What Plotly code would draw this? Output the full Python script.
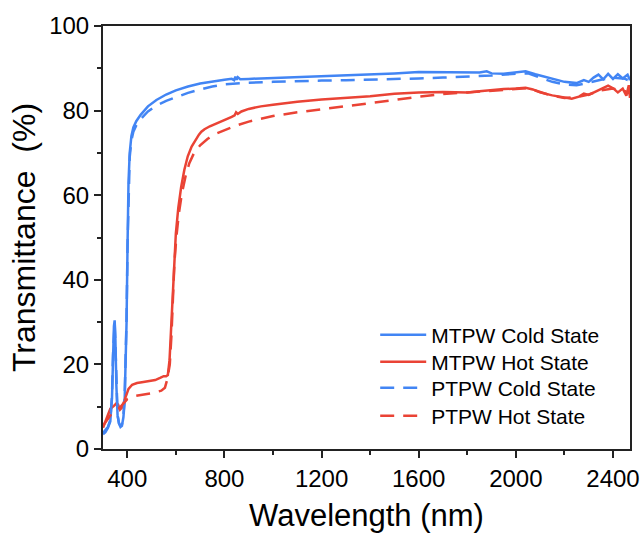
import plotly.graph_objects as go

# MTPW Cold State (solid blue)
mc_x = [300, 310, 320, 330, 337, 341, 345, 348, 351, 355, 360, 366, 372, 378, 384, 389, 393, 397, 401, 405,
        410, 417, 425, 437, 455, 485, 520, 560, 600, 650, 700, 750, 800, 830, 840, 845, 850, 855, 865, 900,
        1000, 1100, 1200, 1300, 1400, 1500, 1600, 1700, 1800, 1850, 1880, 1900, 1950, 2000, 2040, 2080, 2120,
        2160, 2200, 2250, 2280, 2300, 2320, 2340, 2360, 2380, 2400, 2420, 2440, 2460, 2470]
mc_y = [3.5, 4.0, 5.0, 6.5, 12, 22, 29, 30.4, 26, 15, 8, 6, 5.2, 5.5, 7.5, 11, 18, 30, 48, 63,
        70, 74, 76, 77.5, 79, 81, 82.5, 83.8, 84.8, 85.7, 86.4, 86.9, 87.3, 87.5, 87.2, 88.0, 87.3, 87.9, 87.4, 87.5,
        87.7, 87.9, 88.1, 88.3, 88.6, 88.8, 89.1, 89.0, 88.9, 89.0, 89.3, 88.8, 88.7, 89.0, 89.3, 88.6, 88.0,
        87.3, 86.8, 86.5, 87.2, 86.8, 87.8, 88.5, 87.4, 88.7, 87.5, 88.6, 87.6, 88.5, 87.2]

# MTPW Hot State (solid red)
mh_x = [300, 310, 320, 330, 345, 355, 362, 370, 378, 390, 405, 420, 440, 460, 490, 515, 535, 550, 560, 567,
        574, 580, 586, 592, 600, 610, 622, 635, 649, 665, 680, 695, 705, 718, 740, 770, 800, 830, 842, 848,
        855, 870, 900, 950, 1000, 1100, 1200, 1300, 1400, 1500, 1600, 1700, 1800, 1850, 1900, 1950, 2000, 2040,
        2070, 2100, 2150, 2200, 2230, 2260, 2280, 2300, 2330, 2360, 2380, 2400, 2420, 2440, 2455, 2465, 2470]
mh_y = [5.0, 6.5, 8.0, 9.5, 10.2, 10.8, 10.5, 9.3, 9.8, 12, 14.2, 15.2, 15.6, 15.8, 16.0, 16.3, 16.8, 17.2, 17.2, 17.5,
        21, 28, 37, 45, 51, 57, 62, 66, 69.2, 71.5, 73, 74.3, 75, 75.6, 76.3, 77, 77.8, 78.5, 78.9, 79.6,
        79.2, 79.8, 80.4, 81.0, 81.4, 82.1, 82.6, 83.0, 83.4, 84.0, 84.3, 84.4, 84.3, 84.6, 84.9, 85.1, 85.2, 85.4,
        85.0, 84.3, 83.6, 83.0, 82.8, 83.3, 84.0, 83.7, 84.5, 85.2, 85.9, 85.3, 84.3, 85.2, 83.5, 86.0, 83.0]

# PTPW Cold State (dashed blue)
pc_x = [300, 320, 330, 337, 341, 345, 348, 351, 355, 360, 366, 372, 378, 384, 389, 393, 397, 401, 405, 410,
        417, 425, 437, 455, 485, 520, 560, 600, 650, 700, 750, 800, 900, 1000, 1100, 1200, 1300, 1400, 1500,
        1600, 1700, 1800, 1900, 2000, 2050, 2100, 2150, 2200, 2250, 2300, 2350, 2400, 2450, 2470]
pc_y = [3.8, 5.2, 6.8, 12.5, 22, 29, 30, 25, 14, 8, 6, 5.5, 5.8, 8, 12, 19, 31, 48, 62, 69,
        73, 75, 76.5, 78, 79.8, 81.2, 82.3, 83.2, 84.2, 85, 85.7, 86.2, 86.6, 86.8, 87.0, 87.1, 87.2, 87.3, 87.4,
        87.6, 87.8, 88.0, 88.3, 88.7, 88.8, 87.8, 86.8, 86.2, 86.0, 86.6, 87.3, 87.8, 87.5, 87.0]

# PTPW Hot State (dashed red)
ph_x = [300, 320, 335, 350, 365, 380, 400, 430, 470, 510, 540, 555, 565, 575, 582, 588, 594, 602, 612, 625,
        640, 655, 675, 700, 730, 760, 800, 850, 900, 950, 1000, 1100, 1200, 1300, 1400, 1500, 1600, 1700,
        1800, 1900, 2000, 2050, 2100, 2150, 2200, 2250, 2300, 2350, 2400, 2450, 2470]
ph_y = [5.5, 7.0, 8.3, 9.0, 9.5, 10.5, 11.8, 12.5, 12.9, 13.3, 13.8, 14.5, 16.5, 20, 27, 36, 44, 50, 55.5, 60.5,
        64.5, 67.5, 70, 71.8, 73.3, 74.4, 75.4, 76.5, 77.4, 78.1, 78.7, 79.6, 80.3, 81.0, 81.7, 82.5, 83.3, 83.9,
        84.3, 84.7, 85.2, 85.3, 84.4, 83.5, 83.0, 83.2, 83.8, 84.8, 85.2, 84.6, 84.0]

x_ticks = [400, 800, 1200, 1600, 2000, 2400]
y_ticks = [0, 20, 40, 60, 80, 100]

BLUE = "#4285F4"
RED = "#EA4335"
FONT = "Arial, Liberation Sans, sans-serif"
DASH = "14px,9px"

series = [
    ("MTPW Cold State", mc_x, mc_y, BLUE, "solid", "legend"),
    ("MTPW Hot State", mh_x, mh_y, RED, "solid", "legend2"),
    ("PTPW Cold State", pc_x, pc_y, BLUE, DASH, "legend3"),
    ("PTPW Hot State", ph_x, ph_y, RED, DASH, "legend4"),
]

fig = go.Figure()
for name, xs, ys, col, dash, leg in series:
    fig.add_trace(go.Scatter(x=xs, y=ys, mode="lines", name=name, legend=leg,
                             line=dict(color=col, width=2.5, dash=dash)))

legend_rows = [0.2695, 0.2057, 0.1442, 0.078]
leg_common = dict(x=0.5165, xanchor="left", yanchor="middle",
                  font=dict(size=21, family=FONT, color="black"),
                  bgcolor="rgba(0,0,0,0)", itemwidth=46)
legends = {}
for key, yv in zip(["legend", "legend2", "legend3", "legend4"], legend_rows):
    legends[key] = dict(leg_common, y=yv)

fig.update_layout(
    width=642, height=533,
    margin=dict(l=103, r=12, t=26, b=84),
    paper_bgcolor="white", plot_bgcolor="white",
    font=dict(family=FONT, color="black"),
    showlegend=True,
    **legends,
)
fig.update_xaxes(
    range=[300, 2470], tickvals=x_ticks, ticktext=[str(v) for v in x_ticks],
    showgrid=False, zeroline=False, automargin=False,
    showline=True, linecolor="#222", linewidth=2, mirror=True,
    ticks="outside", ticklen=7, tickwidth=2, tickcolor="#222",
    tickfont=dict(size=24, family=FONT),
    minor=dict(tickvals=[600, 1000, 1400, 1800, 2200], ticks="outside", ticklen=4, tickwidth=2, tickcolor="#222"),
    title=dict(text="Wavelength (nm)", font=dict(size=31, family=FONT)),
)
fig.update_yaxes(
    range=[0, 100], tickvals=y_ticks, ticktext=[str(v) for v in y_ticks],
    showgrid=False, zeroline=False, automargin=False,
    showline=True, linecolor="#222", linewidth=2, mirror=True,
    ticks="outside", ticklen=7, tickwidth=2, tickcolor="#222",
    tickfont=dict(size=24, family=FONT),
    minor=dict(tickvals=[10, 30, 50, 70, 90], ticks="outside", ticklen=4, tickwidth=2, tickcolor="#222"),
    title=dict(text="Transmittance  (%)", font=dict(size=32, family=FONT), standoff=4),
)

fig.write_html("out.html")
